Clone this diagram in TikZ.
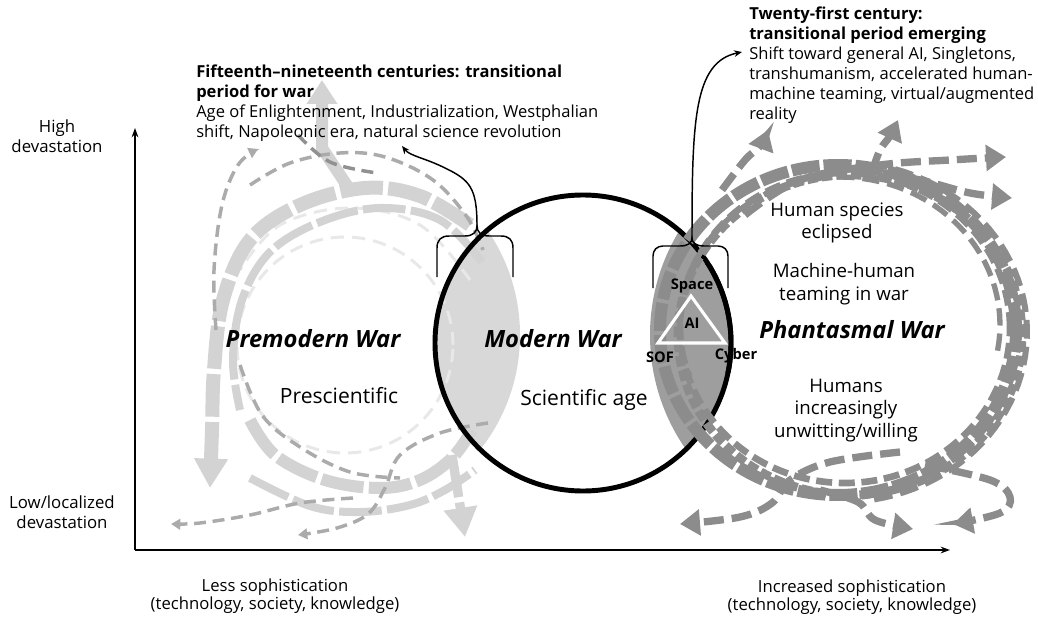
\documentclass[tikz,border=0pt]{standalone}
\usepackage{fontspec}
\setmainfont{Open Sans}
\usetikzlibrary{arrows.meta}
\definecolor{lensL}{HTML}{D8D8D8}
\definecolor{lensR}{HTML}{9E9E9E}
\definecolor{swL}{HTML}{D3D3D3}
\definecolor{swM}{HTML}{ABABAB}
\definecolor{swVL}{HTML}{E8E8E8}
\definecolor{swR}{HTML}{8C8C8C}
\tikzset{
  lband/.style={draw=swL, line width=#1, dash pattern=on 32pt off 4pt},
  lthin/.style={draw=swM, line width=2.6pt, dash pattern=on 9pt off 5pt},
  lvl/.style={draw=swVL, line width=2.2pt, dash pattern=on 10pt off 6pt},
  rloop/.style={draw=swR},
  rarrow/.style={draw=swR, line width=5.5pt, dash pattern=on 15pt off 6pt, -{Triangle[width=19pt,length=15pt]}},
  bigtip/.style={-{Triangle[width=24pt,length=22pt]}},
  smalltip/.style={-{Triangle[width=8pt,length=7pt]}},
  brace/.style={draw=black, line width=1.1pt},
  axis/.style={draw=black, line width=1.1pt, -{Stealth[length=7pt,width=5pt]}},
  body/.style={font=\fontsize{12.4pt}{15pt}\selectfont, inner sep=0pt},
  labL/.style={font=\fontsize{15.8pt}{17pt}\selectfont, inner sep=0pt, align=center},
  labR/.style={font=\fontsize{14pt}{16.9pt}\selectfont, inner sep=0pt, align=center},
  ttl/.style={font=\fontsize{17.8pt}{20pt}\selectfont\bfseries\itshape, inner sep=0pt},
  sml/.style={font=\fontsize{11pt}{12pt}\selectfont\bfseries, inner sep=0pt},
  mcirc/.style={draw=black, line width=3.7pt},
}
\begin{document}
\begin{tikzpicture}[x=0.75pt,y=-0.75pt]
\useasboundingbox (0,0) rectangle (1038,620);
\fill[white] (0,0) rectangle (1038,620);

% lenses
\begin{scope}
  \clip (583,343) circle [radius=111pt];
  \fill[lensL] (335,335) circle [radius=138.75pt];
  \fill[lensR] (850,335) circle [radius=150pt];
\end{scope}

% ---------- left swirl ----------
\draw[lvl] (345,345) circle [radius=81pt];
\draw[lvl] plot[smooth,tension=0.6] coordinates {(470,280) (420,225) (350,208) (280,225) (240,270)};
\draw[lband=10.5pt, bigtip] plot[smooth,tension=0.6] coordinates {(470,225) (420,196) (365,188) (300,205) (250,240) (223,300) (214,370) (212,430) (210,488)};
\draw[lband=6pt] plot[smooth,tension=0.6] coordinates {(482,262) (440,220) (380,208) (320,222) (270,252) (242,300) (233,360) (240,410)};
\draw[lband=9pt] plot[smooth,tension=0.6] coordinates {(250,420) (275,455) (325,480) (380,488) (420,480) (452,458) (472,430)};
\draw[lband=6pt] plot[smooth,tension=0.6] coordinates {(250,478) (310,506) (360,512) (410,505) (445,490) (475,470)};
\draw[lband=7pt, bigtip] (452,455) -- (465,537);
\draw[draw=swL, line width=9pt, -{Triangle[width=22pt,length=18pt]}] (350,190) -- (322,148) -- (322,80);
% thin dashed
\draw[lthin, smalltip] plot[smooth,tension=0.6] coordinates {(216,330) (214,270) (222,205) (238,165) (258,149)};
\draw[lthin] plot[smooth,tension=0.6] coordinates {(250,185) (290,163) (340,153) (385,157) (433,180) (467,217) (483,250)};
\draw[lthin, draw=swM!85!black] plot[smooth,tension=0.6] coordinates {(298,135) (330,162) (377,173)};
\draw[lthin] plot[smooth,tension=0.6] coordinates {(240,365) (262,415) (300,447) (350,472) (400,478)};
\draw[lthin, smalltip] plot[smooth,tension=0.6] coordinates {(488,423) (440,433) (400,455) (385,488) (368,514) (337,528) (298,535)};
\draw[lthin, smalltip] plot[smooth,tension=0.6] coordinates {(353,498) (300,503) (250,515) (200,523) (171,524)};

% ---------- modern circle ----------
\node[draw=black, line width=3.7pt, circle, minimum size=222pt, inner sep=0pt] (modern) at (583,343) {};

% ---------- right swirl ----------
\draw[rloop, line width=9pt, dash pattern=on 21pt off 3pt] (838,330) ellipse [x radius=133.5pt, y radius=123.75pt];
\draw[rloop, line width=5pt, dash pattern=on 12pt off 5pt] (845,328) ellipse [x radius=123.75pt, y radius=116.25pt];
\draw[rloop, line width=6.5pt, dash pattern=on 8pt off 3pt] (850,335) ellipse [x radius=129pt, y radius=120pt];
\draw[rloop, line width=4.5pt, dash pattern=on 14pt off 6pt] plot[domain=-80:80,samples=50] ({842+185*cos(\x)},{332-170*sin(\x)});
\draw[rloop, line width=4pt, dash pattern=on 13pt off 6pt] plot[domain=-10:200,samples=60] ({840+160*cos(\x)},{325-148*sin(\x)});
\draw[rarrow] plot[smooth,tension=0.6] coordinates {(745,215) (800,180) (880,165) (950,160) (1006,157)};
\draw[rarrow] plot[smooth,tension=0.6] coordinates {(855,168) (920,180) (970,193) (1012,198)};
\draw[rarrow] plot[smooth,tension=0.6] coordinates {(722,190) (745,160) (760,146) (768,130)};
\draw[rarrow] plot[smooth,tension=0.6] coordinates {(872,172) (880,150) (890,136) (898,120)};
\draw[rarrow] plot[smooth,tension=0.6] coordinates {(900,452) (830,462) (790,480) (772,503) (740,517) (680,524)};
\draw[rarrow] plot[smooth,tension=0.6] coordinates {(820,490) (858,502) (875,520) (913,529)};
\draw[rarrow] plot[smooth,tension=0.6] coordinates {(925,465) (990,480) (1010,497) (1000,513) (953,524)};

% triangle and labels in the dark lens
\draw[white, line width=2.3pt, line join=miter] (691,296) -- (658,343) -- (725,343) -- cycle;
\node[sml] (space) at (692,289) [anchor=base] {Space};
\node[sml] (cyber) at (736,359) [anchor=base] {Cyber};
\node[sml] (ai) at (692,328) [anchor=base] {AI};
\node[sml] (sof) at (660,362) [anchor=base] {SOF};
\begin{scope}
  \clip (700,265) rectangle (760,372);
  \draw[mcirc] (modern.center) circle [radius=111pt];
\end{scope}

% ---------- brackets & connectors ----------
\coordinate (bL) at (477,226);
\coordinate (tL) at (402,146);
\coordinate (bR) at (692,238);
\coordinate (tR) at (742,52);
\draw[brace] (437,277) -- (437,248) .. controls (437,240) and (441,236) .. (449,236) -- (465,236) .. controls (473,236) and (477,232) .. (bL) .. controls (477,232) and (481,236) .. (489,236) -- (501,236) .. controls (509,236) and (513,240) .. (513,248) -- (513,277);
\draw[brace, -{Stealth[length=6pt,width=5pt]}] (bL) .. controls (477,188) and (470,180) .. (445,168) .. controls (425,158) and (410,156) .. (tL);
\draw[brace] (653,288) -- (653,256) .. controls (653,250) and (657,246) .. (663,246) -- (680,246) .. controls (688,246) and (692,243) .. (bR) .. controls (692,243) and (696,246) .. (704,246) -- (718,246) .. controls (724,246) and (728,250) .. (728,256) -- (728,288);
\draw[brace, -{Stealth[length=6pt,width=5pt]}] (bR) .. controls (692,120) and (694,62) .. (tR);

% ---------- axes ----------
\coordinate (O) at (135,550);
\coordinate (ytop) at (135,128);
\coordinate (xend) at (950,550);
\draw[axis] (O) -- (ytop);
\draw[axis] (O) -- (xend);

% ---------- texts ----------
\node[body, anchor=north west, align=left] (tl) at (196,64.5) {\textbf{Fifteenth–nineteenth centuries: transitional}\\\textbf{period for war}\\Age of Enlightenment, Industrialization, Westphalian\\shift, Napoleonic era, natural science revolution};
\node[body, anchor=north west, align=left] (tr) at (749,6.5) {\textbf{Twenty-first century:}\\\textbf{transitional period emerging}\\Shift toward general AI, Singletons,\\transhumanism, accelerated human-\\machine teaming, virtual/augmented\\reality};
\node[body, font=\fontsize{12.6pt}{15pt}\selectfont, anchor=north, align=center] (hi) at (57,119) {High\\devastation};
\node[body, font=\fontsize{12.6pt}{15pt}\selectfont, anchor=north, align=center] (lo) at (62,495) {Low/localized\\devastation};
\node[body, font=\fontsize{12.5pt}{13.5pt}\selectfont, anchor=north, align=center] (less) at (275,579) {Less sophistication\\(technology, society, knowledge)};
\node[body, font=\fontsize{12.5pt}{13.5pt}\selectfont, anchor=north, align=center] (more) at (852,580) {Increased sophistication\\(technology, society, knowledge)};

\node[ttl, anchor=base] (pre) at (313,347) {Premodern War};
\node[ttl, anchor=base] (mod) at (553,347) {Modern War};
\node[ttl, anchor=base] (pha) at (852,338) {Phantasmal War};
\node[labL, anchor=base] (presci) at (339,403) {Prescientific};
\node[labL, anchor=base] (sci) at (584,405) {Scientific age};
\node[labR, anchor=north] (h1) at (837,202.5) {Human species\\eclipsed};
\node[labR, anchor=north] (h2) at (844,263.5) {Machine-human\\teaming in war};
\node[labR, anchor=north] (h3) at (846,378.5) {Humans\\increasingly\\unwitting/willing};
\end{tikzpicture}
\end{document}
